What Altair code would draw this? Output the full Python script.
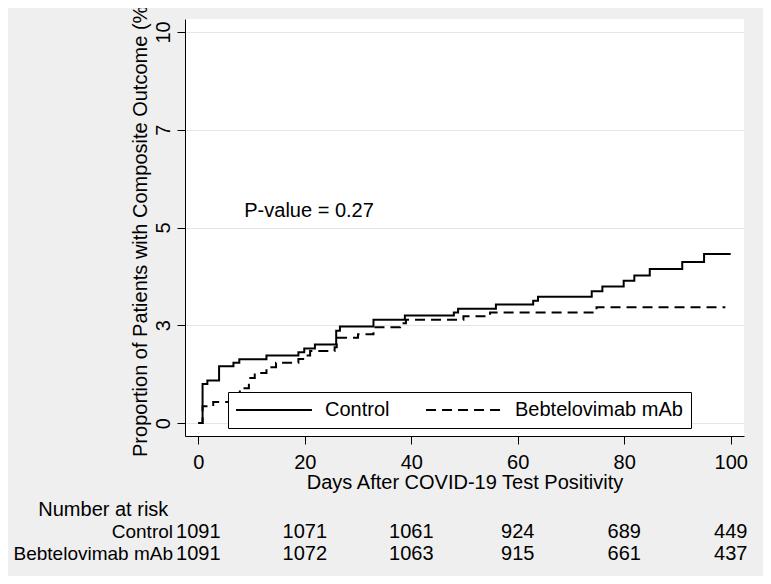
import altair as alt
import pandas as pd

# ---- data ----
groups = ["Control", "Bebtelovimab mAb"]

control_days = [0, 0.8, 1.7, 3.9, 6.6, 7.7, 12.8, 18.8, 19.9, 21.9, 25.9, 26.6, 32.9,
                38.8, 48.0, 48.8, 55.9, 62.9, 63.8, 73.9, 75.9, 79.9, 81.9, 84.8, 90.9, 95.0, 100]
control_pct = [0, 1.00, 1.09, 1.45, 1.54, 1.63, 1.73, 1.81, 1.91, 2.01, 2.36, 2.47, 2.64,
               2.75, 2.83, 2.92, 3.03, 3.13, 3.23, 3.37, 3.49, 3.64, 3.77, 3.94, 4.12, 4.32, 4.32]

mab_days = [0, 0.8, 2.8, 7.8, 9.5, 10.6, 12.8, 14.6, 18.8, 19.9, 21.0, 25.6, 26.0, 30.0,
            32.9, 37.9, 39.0, 49.8, 54.8, 74.8, 99.0]
mab_pct = [0, 0.43, 0.54, 0.89, 1.15, 1.28, 1.43, 1.54, 1.64, 1.73, 1.84, 1.94, 2.18, 2.27,
           2.45, 2.55, 2.64, 2.73, 2.83, 2.96, 2.96]

risk_days = [0, 20, 40, 60, 80, 100]
control_risk = [1091, 1071, 1061, 924, 689, 449]
mab_risk = [1091, 1072, 1063, 915, 661, 437]
risk_header = "Number at risk"

x_ticks = [0, 20, 40, 60, 80, 100]
y_tick_values = [0, 2.5, 5, 7.5, 10]
y_tick_labels = ["0", "3", "5", "7", "10"]

pvalue_text = ["P-value = 0.27"]
pvalue_day = [20.8]
pvalue_pct = [5.27]

# ---- tables ----
curve_df = pd.concat([
    pd.DataFrame({"group": groups[0], "day": control_days, "pct": control_pct}),
    pd.DataFrame({"group": groups[1], "day": mab_days, "pct": mab_pct}),
])
risk_df = pd.concat([
    pd.DataFrame({"row": groups[0], "day": risk_days, "n": control_risk}),
    pd.DataFrame({"row": groups[1], "day": risk_days, "n": mab_risk}),
])
label_df = pd.DataFrame({"row": groups})
header_df = pd.DataFrame({"row": [risk_header]})
pval_df = pd.DataFrame({"txt": pvalue_text, "day": pvalue_day, "pct": pvalue_pct})

row_names = [risk_header] + groups

label_expr = " : ".join(
    [f"datum.value == {v} ? '{l}'" for v, l in zip(y_tick_values, y_tick_labels)]
) + " : ''"

FS = 20
x_scale = alt.Scale(domain=[-2.5, 102.5], nice=False, zero=False)
y_scale = alt.Scale(domain=[-0.33, 10.33], nice=False, zero=False)
row_scale = alt.Scale(type="point", domain=row_names, range=[496.7, 540.5], padding=0)

lines = alt.Chart(curve_df).mark_line(
    interpolate="step-after", strokeWidth=2, color="black"
).encode(
    x=alt.X("day:Q", scale=x_scale, axis=alt.Axis(
        values=x_ticks, format="d", title="Days After COVID-19 Test Positivity",
        titleFontSize=FS, titleFontWeight="normal", titleColor="black",
        titleX=279.5, titleY=52, titleBaseline="alphabetic", titleAlign="center",
        labelFontSize=FS, labelColor="black", labelFlush=False, labelOverlap=False,
        tickSize=8, labelPadding=8, tickColor="black", domainColor="black", grid=False)),
    y=alt.Y("pct:Q", scale=y_scale, axis=alt.Axis(
        values=y_tick_values, labelExpr=label_expr,
        title="Proportion of Patients with Composite Outcome (%)",
        titleFontSize=FS, titleFontWeight="normal", titleColor="black",
        titleAngle=270, titleX=-39, titleY=208.5, titleAlign="center",
        titleBaseline="alphabetic",
        labelAngle=270, labelAlign="center", labelBaseline="alphabetic",
        labelFontSize=FS, labelColor="black", labelPadding=8, tickSize=8,
        tickColor="black", domainColor="black", grid=True, gridColor="#e5e5e5")),
    strokeDash=alt.StrokeDash("group:N", scale=alt.Scale(domain=groups, range=[[1, 0], [10, 6]]),
        legend=alt.Legend(
            title=None, orient="none", legendX=43, legendY=373,
            direction="horizontal", columns=2,
            symbolType="M-8,0H8", symbolSize=90, symbolStrokeWidth=2,
            symbolStrokeColor="black", symbolFillColor="transparent",
            symbolOffset=28, labelOffset=41, labelFontSize=FS, labelColor="black",
            labelLimit=0, columnPadding=32, padding=8,
            strokeColor="black", fillColor="white")),
)

pval = alt.Chart(pval_df).mark_text(
    fontSize=FS, align="center", baseline="alphabetic", color="black"
).encode(
    x=alt.X("day:Q", scale=x_scale),
    y=alt.Y("pct:Q", scale=y_scale, axis=None),
    text="txt:N",
)

risk = alt.Chart(risk_df).mark_text(
    fontSize=FS, align="center", baseline="alphabetic", color="black"
).encode(
    x=alt.X("day:Q", scale=x_scale),
    y=alt.Y("row:N", scale=row_scale, axis=None),
    text="n:Q",
)

labels = alt.Chart(label_df).mark_text(
    fontSize=19, align="right", baseline="alphabetic", color="black"
).encode(
    x=alt.value(-12),
    y=alt.Y("row:N", scale=row_scale, axis=None),
    text="row:N",
)

header = alt.Chart(header_df).mark_text(
    fontSize=FS, align="left", baseline="alphabetic", color="black"
).encode(
    x=alt.value(-146.7),
    y=alt.Y("row:N", scale=row_scale, axis=None),
    text="row:N",
)

chart = alt.layer(lines, pval, risk, labels, header).resolve_scale(
    y="independent"
).properties(
    width=559, height=417,
    autosize=alt.AutoSizeParams(type="none"),
    padding={"left": 177, "top": 11, "right": 19, "bottom": 140},
    background="#efefef",
).configure(font="Liberation Sans").configure_view(fill="white", stroke=None)

chart.save("out.html", embed_options={"renderer": "svg", "actions": False})
